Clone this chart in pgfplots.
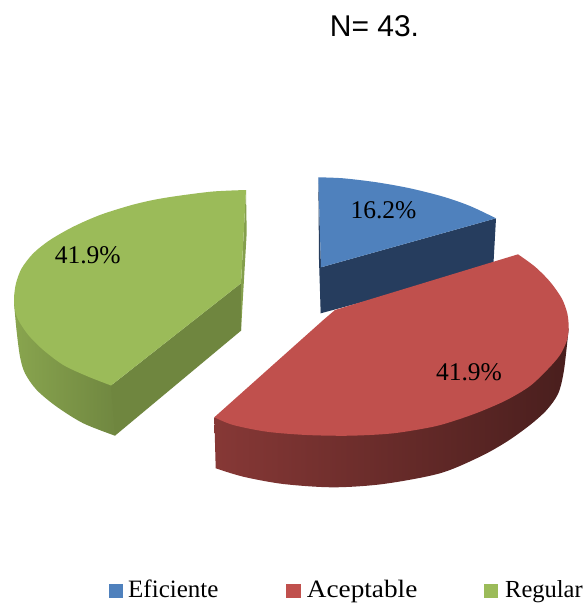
\documentclass[border=0pt]{standalone}
\usepackage{fontspec}
\usepackage{pgfplots}
\pgfplotsset{compat=1.18}
\setmainfont{Liberation Serif}
\newfontfamily\arialf{Liberation Sans}
\definecolor{bluetop}{HTML}{4F81BD}
\definecolor{bluedark}{HTML}{263D5E}
\definecolor{redtop}{HTML}{C0504D}
\definecolor{greentop}{HTML}{9BBB59}
\definecolor{greendark}{HTML}{6F863F}
\begin{document}
\begin{tikzpicture}
\begin{axis}[
  x=1pt, y=-1pt, xmin=0, xmax=587, ymin=0, ymax=603,
  hide axis, clip=false, scale only axis,
]
\path (axis cs:0,0) rectangle (axis cs:587,603);
% Blue slice
\addplot[fill=bluedark, draw=none] coordinates {(496,218.3)(493.3,266.7)(320.7,313.3)(321,267.3)} -- cycle;
\addplot[fill=bluedark, draw=none] coordinates {(318.3,177.3)(319,260)(320.7,313.3)(321,267.3)} -- cycle;
\addplot[smooth, fill=bluetop, draw=none] coordinates {(318.3,177.3)(343.3,178.3)(376.7,182.3)(410,188.3)(443.3,196.7)(470,206)(496,218.3)} -- (axis cs:321,267.3) -- cycle;
% Red slice
\addplot[smooth, shade, left color=redtop!70!black, middle color=redtop!45!black, right color=redtop!38!black, draw=none] coordinates {(215.7,468.3)(243.3,476.7)(283.3,484)(333.3,487.3)(383.3,484)(440,473.3)(480,456.7)(506.7,441.7)(530,425)(546.7,410)(558.3,393.3)(564,370)(568.7,328.3)} -- (axis cs:214.3,417.3) -- cycle;
\addplot[smooth, fill=redtop, draw=none] coordinates {(518,254.3)(535,266.7)(550,281.7)(561.7,298.3)(567.3,313.3)(568.7,328.3)(566.7,341)(560,355)(548,369)(530,386)(506.7,400)(480,411.7)(456.7,420)(433.3,426.7)(393.3,433.3)(350,435.7)(306.7,435)(266.7,431.7)(233.3,425)(214.3,417.3)} -- (axis cs:323.3,320) -- (axis cs:335,310) -- cycle;
% Green slice
\addplot[smooth, shade, left color=greentop!88!black, right color=greentop!72!black, draw=none] coordinates {(14,303)(16.5,330)(20,356.7)(25,373.3)(36.7,390)(56.7,406.7)(83.3,423.3)(115,435.7)} -- (axis cs:117,430) -- (axis cs:114,385.5) -- cycle;
\addplot[fill=greendark, draw=none] coordinates {(111,385.5)(241,283.3)(241,330.7)(115,435.7)} -- cycle;
\addplot[fill=greentop!85!black, draw=none] coordinates {(246,190)(246.7,233)(241,330.7)(241,283.3)} -- cycle;
\addplot[smooth, fill=greentop, draw=none] coordinates {(246,190)(213,191.5)(177,196)(153,200)(130,205.5)(100,215)(73.3,226.7)(50,240)(33.3,253.3)(21.7,268.3)(16,283.3)(14,298.3)(15,310)(18.3,320)(28.3,335)(43.3,350)(63.3,365)(86.7,376)(111,385.5)} -- (axis cs:241,283.3) -- cycle;
% Legend swatches
\addplot[fill=bluetop, draw=none] coordinates {(109,584.3)(123,584.3)(123,598.3)(109,598.3)} -- cycle;
\addplot[fill=redtop, draw=none] coordinates {(286,584.3)(300.7,584.3)(300.7,598.3)(286,598.3)} -- cycle;
\addplot[fill=greentop, draw=none] coordinates {(484,584.3)(498,584.3)(498,598.3)(484,598.3)} -- cycle;
% Text
\node[anchor=base, inner sep=0pt, font=\arialf\fontsize{30}{31}\selectfont] at (axis cs:374.5,36) {N= 43.};
\node[anchor=base, inner sep=0pt, font=\fontsize{25.5}{27}\selectfont] at (axis cs:383.5,218) {16.2\%};
\node[anchor=base, inner sep=0pt, font=\fontsize{25.5}{27}\selectfont] at (axis cs:87.7,263) {41.9\%};
\node[anchor=base, inner sep=0pt, font=\fontsize{25.5}{27}\selectfont] at (axis cs:469,380) {41.9\%};
\node[anchor=base west, inner sep=0pt, font=\fontsize{25}{26}\selectfont] at (axis cs:128,597) {Eficiente};
\node[anchor=base west, inner sep=0pt, font=\fontsize{25}{26}\selectfont] at (axis cs:306.7,597) {\scalebox{1.09}[1]{Aceptable}};
\node[anchor=base west, inner sep=0pt, font=\fontsize{24.5}{26}\selectfont] at (axis cs:505,597) {Regular};
\end{axis}
\end{tikzpicture}
\end{document}
